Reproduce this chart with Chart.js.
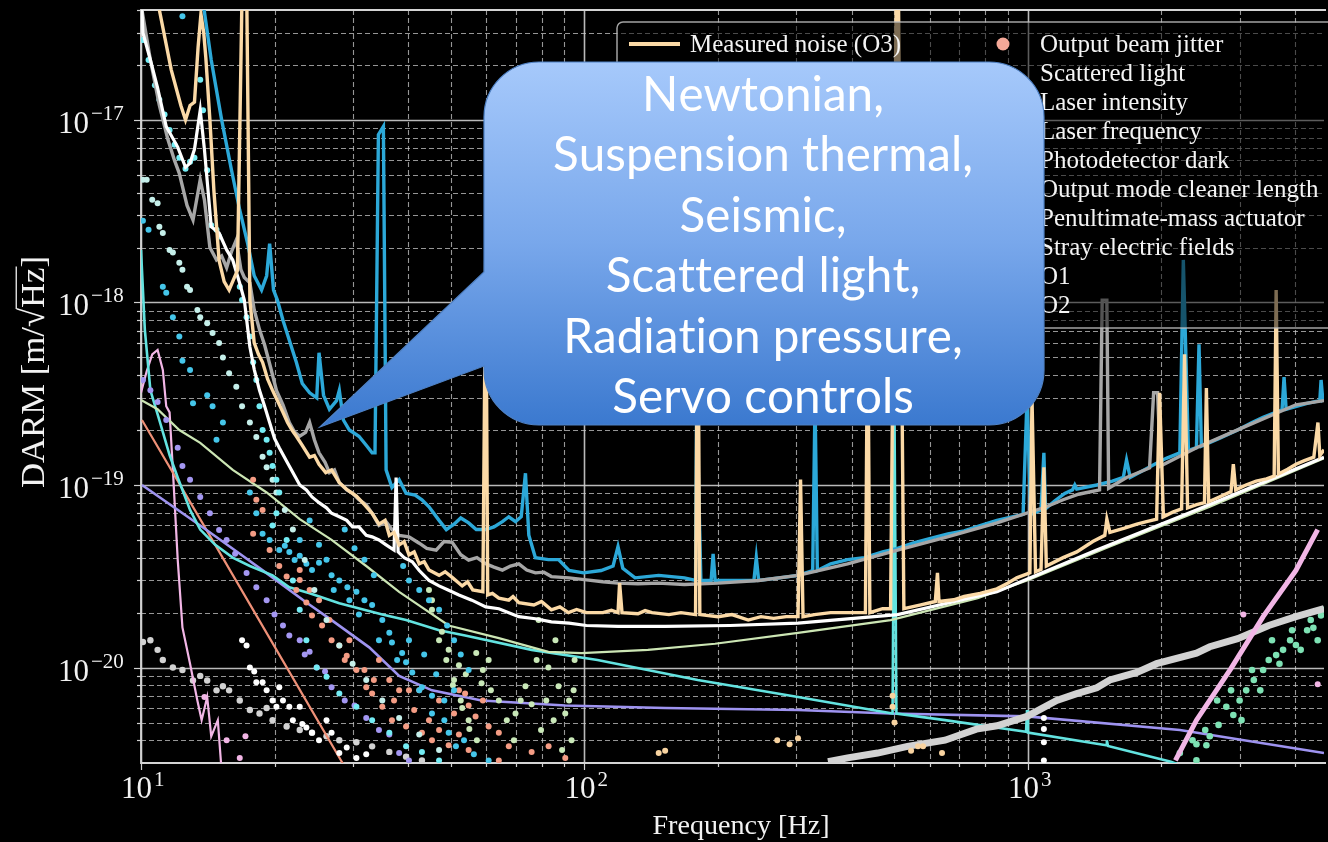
<!DOCTYPE html>
<html>
<head>
<meta charset="utf-8">
<script src="https://cdn.jsdelivr.net/npm/chart.js@4.4.1/dist/chart.umd.min.js"></script>
<style>
  html, body { margin: 0; padding: 0; background: #000; }
  #wrap { width: 1328px; height: 842px; position: relative; }
</style>
</head>
<body>
<div id="wrap"><canvas id="noiseChart"></canvas></div>
<script>
// ---- axis ticks ----
var xMajorTicks = [10, 100, 1000];
var xTickExp = ['1', '2', '3'];
var yMajorTicks = [1e-20, 1e-19, 1e-18, 1e-17];
var yTickExp = ['\u221220', '\u221219', '\u221218', '\u221217'];

// ---- measured curves [freq Hz, DARM m/rtHz] ----
var measuredO3 = [[11.0,4.0e-17],[11.7,1.88e-17],[12.3,1.2e-17],[12.6,1.0e-17],[12.9,1.2e-17],[13.2,1.25e-17],[13.45,2.5e-17],[13.65,3.8e-17],[13.85,3.0e-17],[14.0,2.2e-17],[14.3,1.0e-17],[14.6,4.1e-18],[15.0,1.7e-18],[15.4,1.3e-18],[15.8,1.17e-18],[16.2,1.35e-18],[16.5,1.5e-18],[16.9,5e-17],[17.3,6e-17],[17.6,1.03e-18],[18.0,6.0e-19],[18.4,5.2e-19],[18.8,4.7e-19],[19.3,3.8e-19],[19.8,3.3e-19],[20.3,2.9e-19],[20.9,2.5e-19],[21.4,2.2e-19],[21.9,2.0e-19],[22.4,1.85e-19],[23.1,1.65e-19],[24.0,1.42e-19],[24.6,1.45e-19],[25.2,1.3e-19],[26.1,1.17e-19],[26.9,1.21e-19],[28.0,1.03e-19],[29.2,9.4e-20],[30.6,8.7e-20],[31.9,7.8e-20],[33.2,7.0e-20],[34.4,6.1e-20],[35.5,6.4e-20],[36.3,5.3e-20],[37.2,5.5e-20],[38.2,4.7e-20],[39.2,4.9e-20],[40.2,4.15e-20],[41.3,4.3e-20],[42.4,3.7e-20],[43.5,3.8e-20],[44.6,3.42e-20],[47.0,3.2e-20],[48.5,3.35e-20],[50.3,3.12e-20],[53.0,2.8e-20],[54.5,2.95e-20],[56.0,2.66e-20],[59.0,2.6e-20],[59.9,2.0e-18],[60.5,2.5e-20],[62.0,2.55e-20],[64.1,2.4e-20],[67.5,2.34e-20],[69.0,2.45e-20],[71.1,2.27e-20],[76.9,2.2e-20],[80.0,2.3e-20],[84.2,2.07e-20],[88.0,2.15e-20],[92.0,2.0e-20],[96.0,2.08e-20],[101,2.0e-20],[110,2.0e-20],[115,2.06e-20],[119,2.0e-20],[120,2.9e-20],[121.5,2.0e-20],[132,1.97e-20],[137,2.05e-20],[142,2.0e-20],[155,1.95e-20],[165,2.0e-20],[178,1.95e-20],[180,1.9e-18],[182,1.95e-20],[200,1.9e-20],[215,1.95e-20],[234,1.82e-20],[250,1.9e-20],[267,1.86e-20],[285,1.9e-20],[303,1.9e-20],[307,1.07e-19],[311,1.9e-20],[330,1.95e-20],[359,2.0e-20],[400,2.0e-20],[430,2.0e-20],[435,1.0e-18],[440,2.0e-20],[470,2.1e-20],[490,2.1e-20],[505,6e-17],[510,6e-17],[525,2.1e-20],[570,2.2e-20],[618,2.3e-20],[625,3.3e-20],[630,2.3e-20],[680,2.35e-20],[718,2.45e-20],[780,2.55e-20],[851,2.7e-20],[900,2.9e-20],[943,3.1e-20],[1010,3.3e-20],[1021,3.0e-19],[1040,3.35e-20],[1070,3.45e-20],[1086,1.25e-19],[1100,3.6e-20],[1200,4.0e-20],[1288,4.3e-20],[1400,4.9e-20],[1490,5.3e-20],[1506,6.5e-20],[1530,5.5e-20],[1650,5.8e-20],[1760,6.1e-20],[1850,6.3e-20],[1950,6.5e-20],[1980,3.2e-19],[2020,6.7e-20],[2120,7.1e-20],[2220,7.4e-20],[2254,5.2e-19],[2290,7.5e-20],[2400,7.8e-20],[2500,8.0e-20],[2525,3.4e-19],[2555,8.1e-20],[2700,8.6e-20],[2870,9.2e-20],[2904,1.3e-19],[2940,9.4e-20],[3100,1.0e-19],[3270,1.05e-19],[3450,1.08e-19],[3590,1.12e-19],[3627,1.17e-18],[3670,1.15e-19],[3850,1.22e-19],[4019,1.3e-19],[4200,1.36e-19],[4410,1.42e-19],[4506,2.2e-19],[4550,1.45e-19],[4650,1.56e-19]];

var observingO1 = [[13.7,5e-17],[14.4,2.13e-17],[15.2,1.0e-17],[16.0,5.3e-18],[16.7,3.2e-18],[17.4,2.1e-18],[18.0,1.4e-18],[18.7,1.17e-18],[19.2,1.4e-18],[19.5,2.1e-18],[19.9,1.17e-18],[20.3,1.03e-18],[20.9,8.0e-19],[21.6,6.2e-19],[22.4,4.7e-19],[23.1,3.6e-19],[24.0,3.2e-19],[24.9,3.0e-19],[25.2,5.3e-19],[25.8,3.1e-19],[26.6,2.6e-19],[27.6,2.9e-19],[28.0,3.3e-19],[28.6,2.27e-19],[29.5,2.0e-19],[31.0,1.85e-19],[32.2,1.65e-19],[33.2,1.5e-19],[33.7,1.5e-19],[34.3,8.3e-18],[35.2,9.2e-18],[35.7,1.21e-19],[36.8,9.7e-20],[38.2,1.07e-19],[39.6,9.0e-20],[41.5,8.8e-20],[43.0,8.3e-20],[44.6,7.6e-20],[47.0,6.4e-20],[48.8,5.7e-20],[50.8,6.1e-20],[52.6,6.6e-20],[54.8,6.2e-20],[57.0,5.7e-20],[59.9,5.7e-20],[62.5,5.9e-20],[65.3,6.3e-20],[67.5,6.7e-20],[69.9,6.3e-20],[72.0,6.7e-20],[73.6,1.16e-19],[74.9,5.3e-20],[77.5,4.0e-20],[82.9,3.9e-20],[87.4,3.9e-20],[92.3,3.4e-20],[99.5,3.3e-20],[109,3.4e-20],[116,3.6e-20],[119,4.6e-20],[122,3.5e-20],[130,3.1e-20],[147,3.2e-20],[168,3.1e-20],[178,3.0e-20],[179,2.9e-19],[183,3.0e-20],[193,3.0e-20],[195,4.2e-20],[197,3.0e-20],[214,3.0e-20],[241,3.0e-20],[244,4.0e-20],[247,3.0e-20],[275,3.1e-20],[303,3.2e-20],[327,3.4e-20],[331,2.9e-19],[335,3.4e-20],[359,3.7e-20],[392,3.9e-20],[428,4.0e-20],[470,4.3e-20],[508,4.5e-20],[550,4.8e-20],[603,5.1e-20],[660,5.4e-20],[718,5.6e-20],[780,6.0e-20],[851,6.4e-20],[975,6.9e-20],[995,3.0e-19],[1015,6.9e-20],[1070,7.3e-20],[1086,1.5e-19],[1095,7.4e-20],[1150,8.2e-20],[1210,9.0e-20],[1260,9.4e-20],[1275,1.0e-19],[1288,9.5e-20],[1429,1.0e-19],[1550,1.05e-19],[1640,1.1e-19],[1668,1.37e-19],[1700,1.1e-19],[1930,1.3e-19],[2050,1.4e-19],[2200,1.5e-19],[2240,1.71e-18],[2300,1.55e-19],[2398,1.6e-19],[2430,5.9e-19],[2460,1.63e-19],[2700,1.8e-19],[2970,2.0e-19],[3200,2.2e-19],[3390,2.35e-19],[3740,2.58e-19],[3779,3.9e-19],[3820,2.6e-19],[4260,2.8e-19],[4550,2.9e-19],[4580,3.76e-19],[4620,2.95e-19],[4650,3.0e-19]];

var observingO2 = [[10.05,4.0e-17],[10.5,2.13e-17],[11.0,1.2e-17],[11.5,7.8e-18],[11.9,6.0e-18],[12.2,5.1e-18],[12.7,3.4e-18],[13.1,2.83e-18],[13.6,4.7e-18],[13.9,3.65e-18],[14.3,2.0e-18],[14.8,1.71e-18],[15.2,1.8e-18],[15.6,1.55e-18],[16.0,1.9e-18],[16.4,2.2e-18],[16.8,1.51e-18],[17.1,1.37e-18],[17.6,1.28e-18],[18.0,9.1e-19],[18.5,7.1e-19],[19.0,5.85e-19],[19.6,4.4e-19],[20.2,3.3e-19],[20.9,2.75e-19],[21.6,2.2e-19],[22.2,1.95e-19],[22.8,1.85e-19],[23.5,1.94e-19],[24.0,2.2e-19],[24.6,1.77e-19],[25.2,1.5e-19],[26.0,1.33e-19],[26.6,1.17e-19],[27.3,1.21e-19],[28.0,1.03e-19],[29.1,9.4e-20],[30.0,9.0e-20],[31.0,8.3e-20],[32.2,7.8e-20],[33.2,7.0e-20],[34.4,6.0e-20],[35.7,6.3e-20],[36.8,5.7e-20],[38.2,5.3e-20],[40.2,5.2e-20],[42.4,4.8e-20],[44.1,4.5e-20],[46.3,4.4e-20],[48.2,4.9e-20],[50.3,4.85e-20],[52.6,4.15e-20],[54.8,3.88e-20],[57.2,4.0e-20],[59.9,3.7e-20],[62.5,3.55e-20],[65.3,3.42e-20],[68.1,3.6e-20],[71.1,3.7e-20],[74.1,3.42e-20],[77.5,3.3e-20],[81,3.33e-20],[84.2,3.15e-20],[92.3,3.1e-20],[101,3.02e-20],[110,2.95e-20],[119,2.9e-20],[132,2.88e-20],[147,2.9e-20],[168,2.85e-20],[200,2.9e-20],[247,3.0e-20],[303,3.2e-20],[392,3.7e-20],[508,4.4e-20],[658,5.2e-20],[851,6.2e-20],[1100,7.6e-20],[1200,8.3e-20],[1300,8.9e-20],[1450,9.4e-20],[1470,1.03e-18],[1506,1.03e-18],[1520,9.6e-20],[1668,1.1e-19],[1880,1.24e-19],[1920,3.2e-19],[1960,3.2e-19],[1990,1.27e-19],[2398,1.6e-19],[3105,2.1e-19],[4019,2.75e-19],[4650,2.9e-19]];

var knownTotal = [[10.05,4e-17],[10.1,3e-17],[10.5,2.13e-17],[10.9,1.5e-17],[11.4,9.2e-18],[12.1,7.1e-18],[12.6,5.5e-18],[12.9,5.8e-18],[13.2,6.9e-18],[13.6,1.13e-17],[13.9,6.9e-18],[14.4,2.6e-18],[15.0,2.4e-18],[15.6,1.94e-18],[16.1,1.71e-18],[16.7,1.27e-18],[17.1,1.03e-18],[17.6,5.7e-19],[18.0,4.3e-19],[18.5,3.3e-19],[19.0,2.7e-19],[19.5,2.2e-19],[20.0,1.8e-19],[20.5,1.6e-19],[21.3,1.35e-19],[22.0,1.17e-19],[22.8,1.0e-19],[23.6,9.4e-20],[24.3,8.6e-20],[25.2,8.0e-20],[26.2,7.5e-20],[26.9,7.0e-20],[28.0,6.7e-20],[29.1,6.4e-20],[30.0,5.9e-20],[31.0,5.9e-20],[32.2,5.3e-20],[33.2,5.2e-20],[34.4,5.0e-20],[35.7,4.7e-20],[37.2,4.4e-20],[37.6,1.1e-19],[38.0,4.3e-20],[39.2,4.0e-20],[40.9,3.8e-20],[42.4,3.4e-20],[44.6,3.0e-20],[47.0,2.8e-20],[49.4,2.65e-20],[52.1,2.5e-20],[55.7,2.34e-20],[59.9,2.15e-20],[64.1,2.1e-20],[71.1,1.9e-20],[77.5,1.85e-20],[84.2,1.78e-20],[92.3,1.75e-20],[101,1.7e-20],[119,1.68e-20],[152,1.68e-20],[213,1.7e-20],[303,1.75e-20],[508,1.95e-20],[851,2.6e-20],[1429,4.4e-20],[2398,7.3e-20],[4650,1.42e-19]];

// ---- modelled noise lines ----
var quantumLine = [[10,2.92e-19],[10.9,2.6e-19],[12.2,2.0e-19],[13.6,1.7e-19],[16.1,1.21e-19],[19.2,9.1e-20],[22.8,6.5e-20],[26.9,5.0e-20],[32.2,3.6e-20],[38.2,2.6e-20],[49.4,1.7e-20],[64.1,1.45e-20],[82.9,1.22e-20],[98.5,1.2e-20],[139,1.25e-20],[197,1.35e-20],[303,1.55e-20],[490,1.82e-20],[770,2.4e-20],[995,3.0e-20],[1530,4.6e-20],[2570,7.6e-20],[4650,1.4e-19]];
var thermalLine = [[10,1.94e-18],[10.2,7.1e-19],[10.5,3.3e-19],[11.0,2.27e-19],[11.6,1.46e-19],[12.1,1.1e-19],[12.9,7.3e-20],[13.6,5.7e-20],[14.7,4.7e-20],[16.1,4.0e-20],[17.6,3.6e-20],[19.8,3.2e-20],[21.6,2.75e-20],[24.0,2.55e-20],[28.0,2.25e-20],[35,1.95e-20],[39.6,1.82e-20],[47,1.6e-20],[53.8,1.5e-20],[76,1.25e-20],[107,1.1e-20],[180,8.55e-21],[303,6.9e-21],[495,5.6e-21],[500,2.5e-19],[505,5.6e-21],[650,5.15e-21],[990,4.45e-21],[995,5.85e-21],[1000,4.4e-21],[1500,3.75e-21],[1506,4.0e-21],[1515,3.72e-21],[2100,3.05e-21],[2400,2.7e-21]];
var gasLine = [[10.05,1.0e-19],[13.6,6.0e-20],[16.7,4.2e-20],[19.5,3.2e-20],[23.6,2.27e-20],[26.9,1.82e-20],[32.7,1.29e-20],[38.2,9.0e-21],[45.3,7.5e-21],[58.6,6.6e-21],[90.5,6.2e-21],[152,6.0e-21],[303,5.85e-21],[490,5.6e-21],[995,5.4e-21],[2200,4.55e-21],[4650,3.4e-21]];
var seismicLine = [[10.05,2.27e-19],[13.7,6.3e-20],[19.5,1.45e-20],[28.7,2.9e-21]];
var newtonianLine = [[10,3.2e-19],[10.3,4.2e-19],[10.6,5.2e-19],[10.9,5.5e-19],[11.2,4.27e-19],[11.4,2.7e-19],[11.6,2.5e-19],[11.8,1.21e-19],[12.1,3.9e-20],[12.4,1.66e-20],[12.9,1.05e-20],[13.4,6.6e-21],[13.7,5.15e-21],[14.1,6.9e-21],[14.4,4.2e-21],[14.9,5.15e-21],[15.2,2.7e-21]];
var actuatorHigh = [[2150,3.1e-21],[2398,5.15e-21],[2870,9.9e-21],[3390,1.9e-20],[4019,3.4e-20],[4500,5.7e-20]];
var darkHigh = [[354,3.05e-21],[392,3.2e-21],[458,3.4e-21],[535,3.7e-21],[650,4.0e-21],[765,4.6e-21],[851,4.8e-21],[995,5.4e-21],[1161,6.6e-21],[1288,7.2e-21],[1429,7.75e-21],[1530,8.55e-21],[1760,9.4e-21],[1950,1.05e-20],[2398,1.2e-20],[2570,1.3e-20],[2970,1.44e-20],[3490,1.7e-20],[4019,1.9e-20],[4650,2.1e-20]];

// ---- projected noise dots ----
var cyanTrackDots = [[10.1,2.74e-17],[10.4,2.13e-17],[10.75,1.55e-17],[11.0,1.29e-17],[11.3,1.07e-17],[11.6,8.8e-18],[11.9,7.3e-18],[12.2,6.2e-18],[12.6,5.4e-18],[12.9,5.9e-18],[13.2,6.2e-18],[13.6,1.66e-17],[13.8,1.13e-17],[14.1,5.3e-18],[14.4,2.65e-18],[14.8,2.5e-18],[15.0,2.3e-18],[16.7,1.22e-18],[16.9,1.03e-18],[17.3,8.3e-19],[17.6,6.5e-19],[17.9,4.7e-19],[18.2,3.76e-19],[18.5,2.7e-19],[18.8,2.0e-19],[19.2,1.77e-19],[19.5,1.5e-19],[19.8,1.27e-19],[20.2,1.07e-19],[20.5,9.1e-20],[20.2,7.0e-20],[19.8,6.0e-20],[21.3,5.0e-20],[22.0,3.0e-20],[22.8,2.07e-20],[23.6,1.41e-20],[24.9,1.0e-20],[26.2,8.9e-21],[28.0,7.2e-21],[30.6,6.1e-21],[33.2,5.15e-21],[36.3,4.4e-21],[39.6,3.7e-21],[43.0,3.45e-21],[47,3.1e-21]];
var cyanDots = [[12.4,3.7e-17],[10.1,2.8e-18],[10.4,2.5e-18],[11.2,1.22e-18],[11.4,1.13e-18],[11.8,8.3e-19],[12.2,6.5e-19],[12.4,4.8e-19],[12.9,4.27e-19],[13.1,2.8e-19],[14.1,3.1e-19],[14.5,2.7e-19],[14.8,1.77e-19],[15.3,2.2e-19],[17.6,9.1e-20],[18.2,7.0e-20],[18.8,5.4e-20],[19.5,5.0e-20],[20.5,4.4e-20],[21.1,4.65e-20],[21.6,4.3e-20],[22.2,3.88e-20],[22.8,4.1e-20],[22.8,5.0e-20],[23.6,3.7e-20],[24.0,6.4e-20],[24.3,3.42e-20],[25.2,3.75e-20],[25.2,4.7e-20],[26.2,3.9e-20],[26.9,3.2e-20],[27.2,2.66e-20],[28.0,3.0e-20],[28.8,5.7e-20],[29.2,2.75e-20],[29.5,2.34e-20],[30.3,4.5e-20],[30.6,2.6e-20],[31,1.95e-20],[31.9,2.34e-20],[31.9,3.9e-20],[33.2,2.2e-20],[33.5,3.2e-20],[34.4,1.41e-20],[35.0,1.82e-20],[36.3,1.55e-20],[36.8,1.37e-20],[37.8,1.1e-20],[38.8,1.2e-20],[39.0,3.6e-20],[39.6,1.07e-20],[40.2,3.0e-20],[40.2,1.41e-20],[40.9,9.4e-21],[42.4,7.5e-21],[42.4,2.66e-20],[43.0,7.8e-21],[43.5,1.18e-20],[44.6,2.34e-20],[45.3,7.0e-21],[45.3,5.6e-21],[46.3,9.2e-21],[47,2.07e-20],[48.3,5.15e-21],[48.3,6.6e-21],[49,1.7e-20],[49.4,4.4e-21],[50.8,1.41e-20],[50.8,7.5e-21],[51.3,3.7e-21],[52.6,1.18e-20],[53.5,4.0e-21],[54.8,9.7e-21],[56.3,3.35e-21],[60.8,3.1e-21]];
var paleCyanDots = [[10.1,4.7e-18],[10.3,4.7e-18],[10.6,3.65e-18],[10.9,3.5e-18],[11.0,2.6e-18],[11.2,2.4e-18],[11.6,1.94e-18],[11.8,1.88e-18],[12.2,1.65e-18],[12.4,1.51e-18],[12.7,1.22e-18],[12.9,1.17e-18],[13.4,9.1e-19],[13.6,8.3e-19],[14.1,7.7e-19],[14.5,6.8e-19],[15.0,6.0e-19],[15.3,5.0e-19],[15.8,4.1e-19],[16.4,3.45e-19],[16.9,2.7e-19],[17.6,2.2e-19],[18.2,1.83e-19],[18.8,1.43e-19],[19.2,1.25e-19],[19.8,1.07e-19],[20.2,9.1e-20],[21.1,7.3e-20],[22.0,5.7e-20],[23.4,3.88e-20],[24.6,2.66e-20],[26.2,1.82e-20],[28.0,1.32e-20],[30.0,1.05e-20],[32.2,8.55e-21],[35,6.6e-21],[38.2,5.3e-21],[42.4,4.3e-21],[47,3.53e-21]];
var whiteDots = [[16.9,1.41e-20],[17.3,1.32e-20],[17.6,1.0e-20],[18.0,9.5e-21],[18.2,8.3e-21],[18.8,8.3e-21],[19.2,7.5e-21],[19.8,6.6e-21],[20.2,6.1e-21],[20.5,7.8e-21],[20.9,6.6e-21],[21.6,6.1e-21],[22.0,5.15e-21],[22.8,6.1e-21],[23.1,4.9e-21],[23.6,4.7e-21],[24.3,4.4e-21],[25.2,4.0e-21],[26.2,5.15e-21],[26.9,4.4e-21],[28.0,3.4e-21],[29.1,3.65e-21],[30.6,3.2e-21],[32.2,3.35e-21],[1086,5.3e-21],[1086,4.6e-21],[1086,3.9e-21],[1086,3.1e-21]];
var jitterDots = [[17.9,1.07e-19],[18.2,8.3e-20],[18.8,7.3e-20],[17.9,5.4e-20],[19.5,4.4e-20],[20.5,3.6e-20],[21.3,3.15e-20],[22.4,2.66e-20],[22.8,3.42e-20],[22.8,3.02e-20],[23.6,2.27e-20],[24,2.66e-20],[24.3,1.93e-20],[25.2,2.34e-20],[25.6,1.7e-20],[26.6,1.82e-20],[26.9,1.41e-20],[28.0,1.32e-20],[28.8,1.1e-20],[29.1,1.16e-20],[29.5,1.41e-20],[30.6,9.7e-21],[31.9,9.7e-21],[32.2,7.8e-21],[33.2,7.2e-21],[33.5,8.55e-21],[34.4,1.1e-20],[35.0,6.1e-21],[36.3,8.55e-21],[36.8,5.15e-21],[37.2,6.6e-21],[38.2,7.5e-21],[39.6,4.75e-21],[40.2,7.5e-21],[41.3,5.85e-21],[42.4,7.5e-21],[43,4.4e-21],[44.6,5.15e-21],[45.3,4.0e-21],[47,6.6e-21],[47,4.55e-21],[49.4,3.75e-21],[50.8,5.6e-21],[52.1,7.5e-21],[52.1,4.3e-21],[53.8,7.2e-21],[54.8,6.2e-21],[54.8,3.53e-21],[56.8,5.4e-21],[59,6.6e-21],[60.8,4.75e-21],[64.1,4.4e-21],[64.1,3.1e-21],[67.5,3.7e-21],[76,3.45e-21],[83,3.7e-21],[90.5,3.2e-21]];
var purpleDots = [[10.1,3.76e-19],[10.5,3.3e-19],[10.9,2.85e-19],[11.4,2.27e-19],[12.1,1.6e-19],[12.4,1.27e-19],[12.9,1.07e-19],[13.6,8.6e-20],[14.3,7.0e-20],[15.0,5.67e-20],[15.6,5.0e-20],[16.3,4.2e-20],[17.3,3.3e-20],[18.2,2.75e-20],[19.2,2.34e-20],[20.0,1.95e-20],[20.9,1.7e-20],[21.6,1.5e-20],[22.8,1.41e-20],[23.4,1.18e-20],[24.0,1.22e-20],[24.9,1.0e-20],[26.0,9.5e-21],[26.9,7.8e-21],[28.8,6.6e-21],[30.3,6.2e-21],[32.2,5.3e-21],[34.4,4.55e-21],[36.3,4.3e-21],[38.2,3.4e-21],[40.2,3.1e-21]];
var greenDots = [[44.6,2.66e-20],[45.3,2.07e-20],[45.3,2.34e-20],[47,1.41e-20],[47.7,1.57e-20],[48.8,1.1e-20],[49.4,1.25e-20],[50.5,8.0e-21],[50.8,8.55e-21],[52.1,1.03e-20],[52.6,6.6e-21],[53,6.0e-21],[54,9.2e-21],[54.8,5.15e-21],[55,4.6e-21],[57,1.2e-20],[57.2,4.0e-21],[58.6,8.2e-21],[59,9.7e-21],[60.8,1.1e-20],[61.5,7.5e-21],[64.1,6.6e-21],[66.8,5.15e-21],[69.3,4.0e-21],[69.9,5.6e-21],[71.8,6.6e-21],[73.6,7.9e-21],[76,6.3e-21],[78,1.1e-20],[78.8,1.82e-20],[79.8,4.55e-21],[82,6.6e-21],[82.9,1.0e-20],[85.2,5.15e-21],[86,1.41e-20],[87.4,7.9e-21],[89,3.53e-21],[90.5,5.6e-21],[92.3,6.6e-21],[93.5,4.0e-21],[94.5,7.5e-21],[95,1.1e-20]];
var peachDots = [[147,3.4e-21],[152,3.5e-21],[272,4.0e-21],[290,3.8e-21],[303,4.1e-21],[495,7.0e-21],[495,6.1e-21],[500,5.0e-21],[545,3.5e-21],[565,3.7e-21],[580,3.7e-21],[640,3.4e-21]];
var mintDots = [[2200,3.4e-21],[2350,4.0e-21],[2398,3.8e-21],[2398,3.1e-21],[2510,4.55e-21],[2525,3.75e-21],[2570,4.2e-21],[2670,6.6e-21],[2690,4.85e-21],[2800,6.1e-21],[2870,7.5e-21],[2904,5.5e-21],[3000,6.6e-21],[3030,5.15e-21],[3105,7.5e-21],[3200,9.7e-21],[3230,8.55e-21],[3340,7.5e-21],[3390,9.7e-21],[3490,1.1e-20],[3550,1.41e-20],[3627,1.17e-20],[3690,1.05e-20],[3760,1.25e-20],[3900,1.41e-20],[3940,1.6e-20],[4019,1.33e-20],[4120,1.25e-20],[4260,1.6e-20],[4340,1.82e-20],[4400,1.65e-20],[4500,1.41e-20],[4580,1.93e-20],[4645,2.07e-20]];
var pinkDots = [[13.9,6.9e-21],[15.6,4.0e-21],[16.7,3.2e-21],[17.2,4.2e-21],[3060,1.95e-20],[4500,8.1e-21]];
var grayLowDots = [[10.1,1.38e-20],[10.5,1.41e-20],[10.9,1.25e-20],[11.2,1.1e-20],[11.8,1.0e-20],[12.4,9.7e-21],[13.1,8.5e-21],[13.6,9.0e-21],[14.1,8.5e-21],[14.8,7.5e-21],[15.3,7.9e-21],[15.8,7.5e-21],[16.7,6.6e-21],[17.6,5.85e-21],[18.5,5.6e-21],[19.2,6.0e-21],[19.8,5.15e-21],[21.3,4.75e-21],[22.8,4.55e-21],[24.3,4.4e-21],[26.2,4.2e-21],[28.0,4.0e-21],[30.6,3.9e-21],[33.2,3.7e-21],[36.3,3.45e-21],[39.6,3.25e-21],[43,3.1e-21]];

// ---- legend + callout text ----
var legendLeft = ['Measured noise (O3)'];
var legendRight = ['Output beam jitter', 'Scattered light', 'Laser intensity', 'Laser frequency', 'Photodetector dark', 'Output mode cleaner length', 'Penultimate-mass actuator', 'Stray electric fields', 'O1', 'O2'];
var legendRightColors = ['#F4A898', '#C5EFEA', '#74ECF4', '#45C6EA', '#D2D2D2', '#C9E8B8', '#F2B6E6', '#7EE2B4', '#2CA8D8', '#A6A6A6'];
var calloutLines = ['Newtonian,', 'Suspension thermal,', 'Seismic,', 'Scattered light,', 'Radiation pressure,', 'Servo controls'];

var serif = "'Liberation Serif', 'DejaVu Serif', serif";
var calloutFont = "Lato, 'Open Sans', sans-serif";

function lineSet(data, color, width) {
    return { data: data, showLine: true, borderColor: color, borderWidth: width, pointRadius: 0, tension: 0, fill: false };
}
function dotSet(data, color, r) {
    return { data: data, showLine: false, pointRadius: r || 3, pointBackgroundColor: color, pointBorderWidth: 0, borderColor: color };
}

// black background
const bgPlugin = {
    id: 'bg',
    beforeDraw(chart) {
        const ctx = chart.ctx;
        ctx.save();
        ctx.fillStyle = '#000';
        ctx.fillRect(0, 0, chart.width, chart.height);
        ctx.restore();
    }
};

// log grid (major solid, minor dashed) + frame + small ticks
const gridPlugin = {
    id: 'logGrid',
    beforeDatasetsDraw(chart) {
        const ctx = chart.ctx, xs = chart.scales.x, ys = chart.scales.y, a = chart.chartArea;
        ctx.save();
        var decX = [1, 10, 100, 1000];
        var decY = [1e-21, 1e-20, 1e-19, 1e-18, 1e-17];
        decX.forEach(function (d) {
            for (var m = 1; m <= 9; m++) {
                var v = m * d;
                if (v < xs.min || v > xs.max) continue;
                var px = Math.round(xs.getPixelForValue(v)) + 0.5;
                ctx.beginPath();
                if (m === 1) { ctx.setLineDash([]); ctx.strokeStyle = 'rgba(205,205,205,0.9)'; ctx.lineWidth = 1.6; }
                else { ctx.setLineDash([5, 3]); ctx.strokeStyle = 'rgba(200,200,200,0.75)'; ctx.lineWidth = 1.1; }
                ctx.moveTo(px, a.top); ctx.lineTo(px, a.bottom); ctx.stroke();
                ctx.setLineDash([]);
                ctx.strokeStyle = '#cfcfcf'; ctx.lineWidth = 1.2;
                ctx.beginPath(); ctx.moveTo(px, a.bottom); ctx.lineTo(px, a.bottom + (m === 1 ? 7 : 4)); ctx.stroke();
            }
        });
        decY.forEach(function (d) {
            for (var m = 1; m <= 9; m++) {
                var v = m * d;
                if (v < ys.min || v > ys.max) continue;
                var py = Math.round(ys.getPixelForValue(v)) + 0.5;
                ctx.beginPath();
                if (m === 1) { ctx.setLineDash([]); ctx.strokeStyle = 'rgba(205,205,205,0.9)'; ctx.lineWidth = 1.6; }
                else { ctx.setLineDash([5, 3]); ctx.strokeStyle = 'rgba(200,200,200,0.75)'; ctx.lineWidth = 1.1; }
                ctx.moveTo(a.left, py); ctx.lineTo(a.right, py); ctx.stroke();
                ctx.setLineDash([]);
                ctx.strokeStyle = '#cfcfcf'; ctx.lineWidth = 1.2;
                ctx.beginPath(); ctx.moveTo(a.left, py); ctx.lineTo(a.left - (m === 1 ? 7 : 4), py); ctx.stroke();
            }
        });
        // frame: top, left, bottom
        ctx.strokeStyle = '#d4d4d4';
        ctx.lineWidth = 1.8;
        ctx.beginPath();
        ctx.moveTo(a.right + 2, a.top); ctx.lineTo(a.left, a.top); ctx.lineTo(a.left, a.bottom); ctx.lineTo(a.right + 2, a.bottom);
        ctx.stroke();
        ctx.restore();
    }
};

function fitFont(ctx, family, text, width) {
    ctx.font = '100px ' + family;
    return 100 * width / ctx.measureText(text).width;
}

// draw a string glyph by glyph (no ligatures), centred on cx
function drawPlain(ctx, text, cx, y) {
    var chars = Array.from(text);
    var ws = chars.map(function (c) { return ctx.measureText(c).width; });
    var total = ws.reduce(function (s, v) { return s + v; }, 0);
    var x = cx - total / 2;
    ctx.textAlign = 'left';
    chars.forEach(function (c, i) {
        ctx.fillText(c, x, y);
        x += ws[i];
    });
}

// legend drawn by hand (two columns, like the matplotlib one)
const legendPlugin = {
    id: 'noiseLegend',
    afterDatasetsDraw(chart) {
        const ctx = chart.ctx;
        ctx.save();
        ctx.beginPath();
        ctx.roundRect(617, 22, 740, 306, 6);
        ctx.fillStyle = 'rgba(0,0,0,0.5)';
        ctx.fill();
        ctx.strokeStyle = 'rgba(190,190,190,0.85)';
        ctx.lineWidth = 1.5;
        ctx.stroke();

        var fs = fitFont(ctx, serif, legendRight[5], 278);
        ctx.font = fs.toFixed(1) + 'px ' + serif;
        ctx.fillStyle = '#f4f4f4';
        ctx.textBaseline = 'middle';
        ctx.textAlign = 'left';
        // column 1
        ctx.strokeStyle = '#FBD9A6';
        ctx.lineWidth = 4;
        ctx.beginPath(); ctx.moveTo(629, 44); ctx.lineTo(680, 44); ctx.stroke();
        ctx.fillText(legendLeft[0], 690, 45);
        // column 2
        legendRight.forEach(function (t, i) {
            var y = 44 + i * 29;
            ctx.beginPath();
            ctx.arc(1003, y, 6.5, 0, Math.PI * 2);
            ctx.fillStyle = legendRightColors[i];
            ctx.fill();
            ctx.fillStyle = '#f4f4f4';
            ctx.fillText(t, 1040, y + 1);
        });
        ctx.restore();
    }
};

function drawTen(ctx, rightX, baseY, exp, expBaseY) {
    ctx.textAlign = 'right';
    ctx.font = '31px ' + serif;
    ctx.fillText('10', rightX, baseY);
    ctx.textAlign = 'left';
    ctx.font = '21px ' + serif;
    ctx.fillText(exp, rightX + 2, expBaseY);
}

// tick labels, axis titles, callout
const annotPlugin = {
    id: 'annot',
    afterDraw(chart) {
        const ctx = chart.ctx, xs = chart.scales.x, ys = chart.scales.y;
        ctx.save();
        ctx.fillStyle = '#f2f2f2';
        ctx.textBaseline = 'alphabetic';
        xMajorTicks.forEach(function (v, i) {
            var px = xs.getPixelForValue(v);
            drawTen(ctx, px + 11, 798, xTickExp[i], 786);
        });
        yMajorTicks.forEach(function (v, i) {
            var py = ys.getPixelForValue(v);
            drawTen(ctx, 89, py + 13, yTickExp[i], py);
        });

        // x title
        var xfs = fitFont(ctx, serif, 'Frequency [Hz]', 177);
        ctx.font = xfs.toFixed(1) + 'px ' + serif;
        ctx.textAlign = 'center';
        ctx.fillText('Frequency [Hz]', 741, 834);

        // y title with sqrt overline
        ctx.save();
        ctx.translate(44, 372);
        ctx.rotate(-Math.PI / 2);
        var full = 'DARM [m/\u221AHz]';
        var yfs = fitFont(ctx, serif, full, 232);
        ctx.font = yfs.toFixed(1) + 'px ' + serif;
        ctx.textAlign = 'left';
        var w = ctx.measureText(full).width;
        var pre = ctx.measureText('DARM [m/\u221A').width;
        var hz = ctx.measureText('Hz').width;
        ctx.fillText(full, -w / 2, 0);
        ctx.strokeStyle = '#f2f2f2';
        ctx.lineWidth = 1.3;
        ctx.beginPath();
        ctx.moveTo(-w / 2 + pre - 1, -yfs * 0.8);
        ctx.lineTo(-w / 2 + pre + hz + 1, -yfs * 0.8);
        ctx.stroke();
        ctx.restore();

        // callout bubble
        var x0 = 484, y0 = 62, x1 = 1044, y1 = 425, r = 55;
        ctx.beginPath();
        ctx.moveTo(x0 + r, y0);
        ctx.lineTo(x1 - r, y0); ctx.arcTo(x1, y0, x1, y0 + r, r);
        ctx.lineTo(x1, y1 - r); ctx.arcTo(x1, y1, x1 - r, y1, r);
        ctx.lineTo(x0 + r, y1); ctx.arcTo(x0, y1, x0, y1 - r, r);
        ctx.lineTo(x0, 366); ctx.lineTo(320, 427); ctx.lineTo(x0, 272);
        ctx.lineTo(x0, y0 + r); ctx.arcTo(x0, y0, x0 + r, y0, r);
        ctx.closePath();
        var g = ctx.createLinearGradient(0, y0, 0, y1);
        g.addColorStop(0, '#A6C9FB');
        g.addColorStop(0.5, '#78A7EB');
        g.addColorStop(1, '#3B79CF');
        ctx.fillStyle = g;
        ctx.fill();
        ctx.strokeStyle = '#4F82C6';
        ctx.lineWidth = 1.2;
        ctx.stroke();

        var cfs = fitFont(ctx, calloutFont, calloutLines[1], 420);
        ctx.font = cfs.toFixed(1) + 'px ' + calloutFont;
        ctx.fillStyle = '#ffffff';
        calloutLines.forEach(function (t, i) {
            drawPlain(ctx, t, 763, 111 + i * 60.4);
        });
        ctx.restore();
    }
};

var datasets = [
    lineSet(measuredO3, '#FBD9A6', 3.4),
    lineSet(knownTotal, '#FFFFFF', 3.2),
    lineSet(observingO2, '#A6A6A6', 3.4),
    lineSet(observingO1, '#2CA8D8', 3.4),
    dotSet(cyanTrackDots, '#74ECF4'),
    dotSet(paleCyanDots, '#C5EFEA'),
    dotSet(cyanDots, '#45C6EA'),
    dotSet(whiteDots, '#FFFFFF'),
    dotSet(jitterDots, '#F49C84'),
    dotSet(purpleDots, '#A497F2'),
    dotSet(greenDots, '#C9E8B8'),
    dotSet(peachDots, '#F8D3A0'),
    lineSet(actuatorHigh, '#F2B6E6', 5),
    dotSet(pinkDots, '#F2B6E6'),
    lineSet(darkHigh, '#D2D2D2', 7),
    dotSet(mintDots, '#7EE2B4', 3.3),
    lineSet(quantumLine, '#CCE6B4', 2.2),
    lineSet(thermalLine, '#63E3E0', 2.6),
    lineSet(gasLine, '#9E93F0', 2.6),
    lineSet(seismicLine, '#EE9077', 2.2),
    lineSet(newtonianLine, '#F2B6E6', 2.2),
    dotSet(grayLowDots, '#D2D2D2', 3.2)
];

new Chart(document.getElementById('noiseChart'), {
    type: 'scatter',
    data: { datasets: datasets },
    options: {
        responsive: true,
        maintainAspectRatio: false,
        animation: false,
        events: [],
        layout: { padding: { left: 141, right: 0, top: 10, bottom: 79 } },
        plugins: { legend: { display: false }, tooltip: { enabled: false } },
        scales: {
            x: { type: 'logarithmic', min: 10, max: 4650, display: false },
            y: { type: 'logarithmic', min: 3.0e-21, max: 4.0e-17, display: false }
        }
    },
    plugins: [bgPlugin, gridPlugin, legendPlugin, annotPlugin]
});
</script>
</body>
</html>
